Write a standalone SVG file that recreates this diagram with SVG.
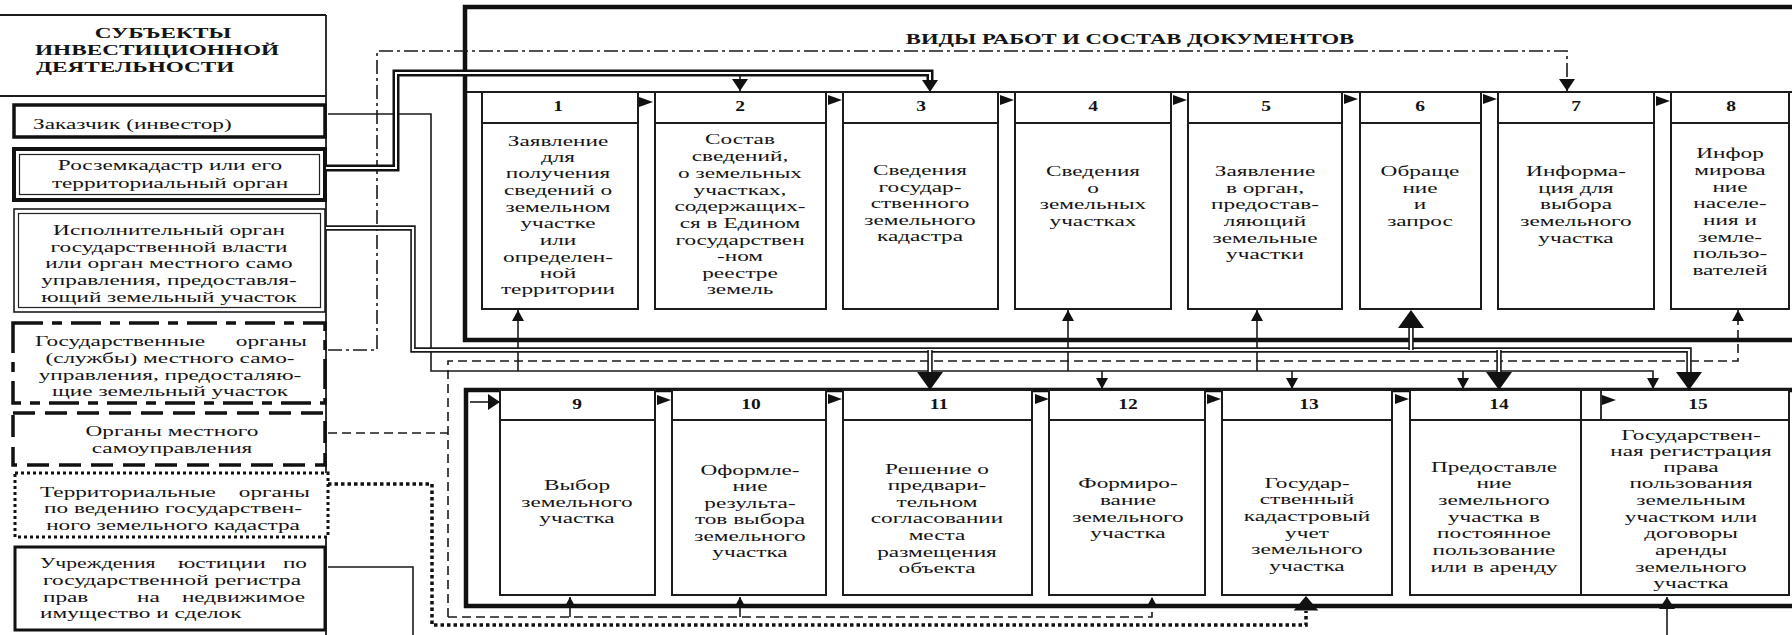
<svg xmlns="http://www.w3.org/2000/svg" width="1792" height="635" viewBox="0 0 1792 635">
<style>
  .ln{fill:none;stroke:#1c1c1c;stroke-width:1.8}
  .bx{fill:#fff;stroke:#1c1c1c;stroke-width:2}
  .frame{fill:none;stroke:#111;stroke-width:4.5}
  .tx{font-family:"Liberation Serif","Times New Roman",serif;font-size:15.5px;fill:#141414;text-anchor:middle}
  .st{text-anchor:start}
  .en{text-anchor:end}
  .bd{font-weight:bold}
  .num{font-family:"Liberation Serif","Times New Roman",serif;font-size:15px;font-weight:bold;fill:#141414;text-anchor:middle}
  .thin{fill:none;stroke:#1a1a1a;stroke-width:1.6}
  .dashdot{fill:none;stroke:#1a1a1a;stroke-width:1.6;stroke-dasharray:14 4 3 4}
  .dash{fill:none;stroke:#1a1a1a;stroke-width:1.6;stroke-dasharray:9 5}
  .dot{fill:none;stroke:#111;stroke-width:3.5;stroke-dasharray:3.5 3}
  .dblA{fill:none;stroke:#111;stroke-width:7}
  .dblAi{fill:none;stroke:#fff;stroke-width:2}
  .dblB{fill:none;stroke:#1a1a1a;stroke-width:5.5}
  .dblBi{fill:none;stroke:#fff;stroke-width:2.2}
</style>
<defs>
  <marker id="sm" viewBox="0 0 11 12" refX="11" refY="6" markerWidth="11" markerHeight="12" orient="auto" markerUnits="userSpaceOnUse">
    <path d="M0,0 L11,6 L0,12 z" fill="#111"/>
  </marker>
  <marker id="md" viewBox="0 0 12 16" refX="12" refY="8" markerWidth="12" markerHeight="16" orient="auto" markerUnits="userSpaceOnUse">
    <path d="M0,0 L12,8 L0,16 z" fill="#111"/>
  </marker>
  <path id="flag" d="M0,-5 L14,0 L0,5 z" fill="#111"/>
  <!-- large arrowhead, tip at origin pointing down -->
  <path id="bigDown" d="M-13,-18 L13,-18 L0,0 z" fill="#111"/>
  <path id="midDown" d="M-8,-12 L8,-12 L0,0 z" fill="#111"/>
</defs>

<rect width="1792" height="635" fill="#fff"/>

<!-- ===== left column: participants ===== -->
<g id="subjects-head">
  <path class="ln" d="M0,15 H326 M0,96 H326 M326,15 V635"/>
  <text class="tx bd" transform="translate(163 0) scale(1.5 1)" y="38">СУБЪЕКТЫ</text>
  <text class="tx bd st" transform="translate(35 0) scale(1.5 1)" y="55">ИНВЕСТИЦИОННОЙ</text>
  <text class="tx bd st" transform="translate(36 0) scale(1.5 1)" y="72">ДЕЯТЕЛЬНОСТИ</text>
</g>

<g id="s-customer">
  <rect x="14" y="105" width="311" height="32" fill="#fff" stroke="#111" stroke-width="3.5"/>
  <text class="tx st" transform="translate(33 0) scale(1.5 1)" y="129">Заказчик (инвестор)</text>
</g>

<g id="s-roszem">
  <rect x="14" y="149" width="311" height="51" fill="#fff" stroke="#111" stroke-width="4"/>
  <rect x="19.5" y="154.5" width="300" height="40" fill="none" stroke="#222" stroke-width="1.2"/>
  <text class="tx" transform="translate(170 0) scale(1.5 1)"><tspan x="0" y="170">Росземкадастр или его</tspan><tspan x="0" y="188">территориальный орган</tspan></text>
</g>

<g id="s-executive">
  <rect x="14" y="209" width="311" height="103" fill="#fff" stroke="#1c1c1c" stroke-width="1.6"/>
  <rect x="18.5" y="213.5" width="302" height="94" fill="none" stroke="#222" stroke-width="1.2"/>
  <text class="tx" transform="translate(169 0) scale(1.5 1)"><tspan x="0" y="235">Исполнительный орган</tspan><tspan x="0" y="252">государственной власти</tspan><tspan x="0" y="268">или орган местного само</tspan><tspan x="0" y="285">управления, предоставля-</tspan><tspan x="0" y="302">ющий земельный участок</tspan></text>
</g>

<g id="s-services">
  <rect x="13" y="323" width="312" height="80" fill="#fff" stroke="#111" stroke-width="3.5" stroke-dasharray="30 9 10 9"/>
  <text class="tx st" transform="translate(35 0) scale(1.5 1)" y="346">Государственные</text>
  <text class="tx en" transform="translate(307 0) scale(1.5 1)" y="346">органы</text>
  <text class="tx" transform="translate(170 0) scale(1.5 1)"><tspan x="0" y="363">(службы) местного само-</tspan><tspan x="0" y="380">управления, предосталяю-</tspan><tspan x="0" y="396">щие земельный участок</tspan></text>
</g>

<g id="s-local">
  <rect x="13" y="413" width="312" height="52" fill="#fff" stroke="#111" stroke-width="3.5" stroke-dasharray="22 10"/>
  <text class="tx" transform="translate(172 0) scale(1.5 1)"><tspan x="0" y="436">Органы местного</tspan><tspan x="0" y="453">самоуправления</tspan></text>
</g>

<g id="s-cadastre">
  <rect x="15" y="473" width="313" height="64" fill="#fff" stroke="#111" stroke-width="3" stroke-dasharray="3 3"/>
  <text class="tx st" transform="translate(40 0) scale(1.5 1)" y="497">Территориальные</text>
  <text class="tx en" transform="translate(310 0) scale(1.5 1)" y="497">органы</text>
  <text class="tx" transform="translate(173 0) scale(1.5 1)"><tspan x="0" y="513">по ведению государствен-</tspan><tspan x="0" y="530">ного земельного кадастра</tspan></text>
</g>

<g id="s-justice">
  <rect x="15" y="547" width="310" height="83" fill="#fff" stroke="#111" stroke-width="3"/>
  <text class="tx st" transform="translate(40 0) scale(1.4 1)" y="568">Учреждения</text>
  <text class="tx st" transform="translate(178 0) scale(1.5 1)" y="568">юстиции</text>
  <text class="tx en" transform="translate(307 0) scale(1.5 1)" y="568">по</text>
  <text class="tx" transform="translate(172 0) scale(1.5 1)" y="585">государственной регистра</text>
  <text class="tx st" transform="translate(43 0) scale(1.5 1)" y="602">прав</text>
  <text class="tx st" transform="translate(137 0) scale(1.5 1)" y="602">на</text>
  <text class="tx en" transform="translate(305 0) scale(1.5 1)" y="602">недвижимое</text>
  <text class="tx st" transform="translate(40 0) scale(1.5 1)" y="618">имущество и сделок</text>
</g>

<!-- ===== right part: work stages ===== -->
<g id="frames">
  <path class="frame" d="M1800,7 H465 V340 H1800"/>
  <path class="frame" d="M1800,390 H466 V606 H1800"/>
  <path class="ln" d="M467,92 H1792"/>
  <text class="tx bd" transform="translate(1130 0) scale(1.46 1)" y="44">ВИДЫ РАБОТ И СОСТАВ ДОКУМЕНТОВ</text>
</g>

<!-- upper row -->
<g id="w1">
  <rect class="bx" x="482" y="92" width="156" height="217"/><path class="ln" d="M482,123 H638"/>
  <text class="num" transform="translate(558 0) scale(1.3 1)" y="111">1</text>
  <text class="tx" transform="translate(558 0) scale(1.5 1)"><tspan x="0" y="146">Заявление</tspan><tspan x="0" y="162">для</tspan><tspan x="0" y="178">получения</tspan><tspan x="0" y="195">сведений о</tspan><tspan x="0" y="212">земельном</tspan><tspan x="0" y="228">участке</tspan><tspan x="0" y="245">или</tspan><tspan x="0" y="262">определен-</tspan><tspan x="0" y="278">ной</tspan><tspan x="0" y="294">территории</tspan></text>
</g>
<g id="w2">
  <rect class="bx" x="655" y="92" width="171" height="217"/><path class="ln" d="M655,123 H826"/>
  <text class="num" transform="translate(740 0) scale(1.3 1)" y="111">2</text>
  <text class="tx" transform="translate(740 0) scale(1.5 1)"><tspan x="0" y="144">Состав</tspan><tspan x="0" y="161">сведений,</tspan><tspan x="0" y="178">о земельных</tspan><tspan x="0" y="195">участках,</tspan><tspan x="0" y="211">содержащих-</tspan><tspan x="0" y="228">ся в Едином</tspan><tspan x="0" y="245">государствен</tspan><tspan x="0" y="261">-ном</tspan><tspan x="0" y="278">реестре</tspan><tspan x="0" y="294">земель</tspan></text>
</g>
<g id="w3">
  <rect class="bx" x="843" y="92" width="155" height="217"/><path class="ln" d="M843,123 H998"/>
  <text class="num" transform="translate(921 0) scale(1.3 1)" y="111">3</text>
  <text class="tx" transform="translate(920 0) scale(1.5 1)"><tspan x="0" y="175">Сведения</tspan><tspan x="0" y="192">государ-</tspan><tspan x="0" y="208">ственного</tspan><tspan x="0" y="225">земельного</tspan><tspan x="0" y="241">кадастра</tspan></text>
</g>
<g id="w4">
  <rect class="bx" x="1015" y="92" width="156" height="217"/><path class="ln" d="M1015,123 H1171"/>
  <text class="num" transform="translate(1093 0) scale(1.3 1)" y="111">4</text>
  <text class="tx" transform="translate(1093 0) scale(1.5 1)"><tspan x="0" y="176">Сведения</tspan><tspan x="0" y="193">о</tspan><tspan x="0" y="209">земельных</tspan><tspan x="0" y="226">участках</tspan></text>
</g>
<g id="w5">
  <rect class="bx" x="1188" y="92" width="154" height="217"/><path class="ln" d="M1188,123 H1342"/>
  <text class="num" transform="translate(1266 0) scale(1.3 1)" y="111">5</text>
  <text class="tx" transform="translate(1265 0) scale(1.5 1)"><tspan x="0" y="176">Заявление</tspan><tspan x="0" y="193">в орган,</tspan><tspan x="0" y="209">предостав-</tspan><tspan x="0" y="226">ляющий</tspan><tspan x="0" y="243">земельные</tspan><tspan x="0" y="259">участки</tspan></text>
</g>
<g id="w6">
  <rect class="bx" x="1360" y="92" width="121" height="217"/><path class="ln" d="M1360,123 H1481"/>
  <text class="num" transform="translate(1420 0) scale(1.3 1)" y="111">6</text>
  <text class="tx" transform="translate(1420 0) scale(1.5 1)"><tspan x="0" y="176">Обраще</tspan><tspan x="0" y="193">ние</tspan><tspan x="0" y="209">и</tspan><tspan x="0" y="226">запрос</tspan></text>
</g>
<g id="w7">
  <rect class="bx" x="1498" y="92" width="156" height="217"/><path class="ln" d="M1498,123 H1654"/>
  <text class="num" transform="translate(1576 0) scale(1.3 1)" y="111">7</text>
  <text class="tx" transform="translate(1576 0) scale(1.5 1)"><tspan x="0" y="176">Информа-</tspan><tspan x="0" y="193">ция  для</tspan><tspan x="0" y="209">выбора</tspan><tspan x="0" y="226">земельного</tspan><tspan x="0" y="243">участка</tspan></text>
</g>
<g id="w8">
  <rect class="bx" x="1671" y="92" width="118" height="217"/><path class="ln" d="M1671,123 H1789"/>
  <text class="num" transform="translate(1731 0) scale(1.3 1)" y="111">8</text>
  <text class="tx" transform="translate(1730 0) scale(1.5 1)"><tspan x="0" y="158">Инфор</tspan><tspan x="0" y="175">мирова</tspan><tspan x="0" y="192">ние</tspan><tspan x="0" y="208">населе-</tspan><tspan x="0" y="225">ния и</tspan><tspan x="0" y="242">земле-</tspan><tspan x="0" y="258">пользо-</tspan><tspan x="0" y="275">вателей</tspan></text>
</g>

<!-- lower row -->
<g id="w9">
  <rect class="bx" x="500" y="390" width="155" height="205"/><path class="ln" d="M500,420 H655"/>
  <text class="num" transform="translate(577 0) scale(1.3 1)" y="409">9</text>
  <text class="tx" transform="translate(577 0) scale(1.5 1)"><tspan x="0" y="490">Выбор</tspan><tspan x="0" y="507">земельного</tspan><tspan x="0" y="523">участка</tspan></text>
</g>
<g id="w10">
  <rect class="bx" x="672" y="390" width="154" height="205"/><path class="ln" d="M672,420 H826"/>
  <text class="num" transform="translate(751 0) scale(1.3 1)" y="409">10</text>
  <text class="tx" transform="translate(750 0) scale(1.5 1)"><tspan x="0" y="475">Оформле-</tspan><tspan x="0" y="491">ние</tspan><tspan x="0" y="508">результа-</tspan><tspan x="0" y="524">тов выбора</tspan><tspan x="0" y="541">земельного</tspan><tspan x="0" y="557">участка</tspan></text>
</g>
<g id="w11">
  <rect class="bx" x="843" y="390" width="189" height="205"/><path class="ln" d="M843,420 H1032"/>
  <text class="num" transform="translate(939 0) scale(1.3 1)" y="409">11</text>
  <text class="tx" transform="translate(937 0) scale(1.5 1)"><tspan x="0" y="474">Решение о</tspan><tspan x="0" y="490">предвари-</tspan><tspan x="0" y="507">тельном</tspan><tspan x="0" y="523">согласовании</tspan><tspan x="0" y="540">места</tspan><tspan x="0" y="557">размещения</tspan><tspan x="0" y="573">объекта</tspan></text>
</g>
<g id="w12">
  <rect class="bx" x="1049" y="390" width="156" height="205"/><path class="ln" d="M1049,420 H1205"/>
  <text class="num" transform="translate(1128 0) scale(1.3 1)" y="409">12</text>
  <text class="tx" transform="translate(1128 0) scale(1.5 1)"><tspan x="0" y="488">Формиро-</tspan><tspan x="0" y="505">вание</tspan><tspan x="0" y="522">земельного</tspan><tspan x="0" y="538">участка</tspan></text>
</g>
<g id="w13">
  <rect class="bx" x="1222" y="390" width="170" height="205"/><path class="ln" d="M1222,420 H1392"/>
  <text class="num" transform="translate(1309 0) scale(1.3 1)" y="409">13</text>
  <text class="tx" transform="translate(1307 0) scale(1.5 1)"><tspan x="0" y="488">Государ-</tspan><tspan x="0" y="504">ственный</tspan><tspan x="0" y="521">кадастровый</tspan><tspan x="0" y="538">учет</tspan><tspan x="0" y="554">земельного</tspan><tspan x="0" y="571">участка</tspan></text>
</g>
<g id="w14">
  <rect class="bx" x="1410" y="390" width="171" height="205"/><path class="ln" d="M1410,420 H1581"/>
  <text class="num" transform="translate(1499 0) scale(1.3 1)" y="409">14</text>
  <text class="tx" transform="translate(1494 0) scale(1.5 1)"><tspan x="0" y="472">Предоставле</tspan><tspan x="0" y="488">ние</tspan><tspan x="0" y="505">земельного</tspan><tspan x="0" y="522">участка в</tspan><tspan x="0" y="538">постоянное</tspan><tspan x="0" y="555">пользование</tspan><tspan x="0" y="572">или в аренду</tspan></text>
</g>
<g id="w15">
  <rect class="bx" x="1581" y="390" width="208" height="205"/><path class="ln" d="M1601,420 H1789 M1601,390 V420 M1581,420 H1601"/>
  <text class="num" transform="translate(1698 0) scale(1.3 1)" y="409">15</text>
  <text class="tx" transform="translate(1691 0) scale(1.5 1)"><tspan x="0" y="440">Государствен-</tspan><tspan x="0" y="456">ная регистрация</tspan><tspan x="0" y="472">права</tspan><tspan x="0" y="488">пользования</tspan><tspan x="0" y="505">земельным</tspan><tspan x="0" y="522">участком или</tspan><tspan x="0" y="538">договоры</tspan><tspan x="0" y="555">аренды</tspan><tspan x="0" y="572">земельного</tspan><tspan x="0" y="588">участка</tspan></text>
</g>

<!-- ===== connectors ===== -->
<g id="connectors">
  <!-- sequence flags between neighbouring stages -->
  <use href="#flag" x="639" y="102"/>
  <use href="#flag" x="828" y="100"/>
  <use href="#flag" x="1000" y="100"/>
  <use href="#flag" x="1173" y="100"/>
  <use href="#flag" x="1344" y="99"/>
  <use href="#flag" x="1483" y="99"/>
  <use href="#flag" x="1656" y="101"/>
  <path class="thin" d="M470,402 H500" marker-end="url(#md)"/>
  <use href="#flag" x="657" y="400"/>
  <use href="#flag" x="828" y="399"/>
  <use href="#flag" x="1035" y="399"/>
  <use href="#flag" x="1207" y="399"/>
  <use href="#flag" x="1395" y="399"/>
  <use href="#flag" x="1602" y="400"/>

  <!-- state / municipal services: dash-dot -->
  <path class="dashdot" d="M328,350 H377 V51 H1567 V91" marker-end="url(#md)"/>

  <!-- customer: thin line -->
  <path class="thin" d="M328,114 H431 V371 H1653 V389" marker-end="url(#sm)"/>
  <path class="thin" d="M518,371 V310" marker-end="url(#sm)"/>
  <path class="thin" d="M1068,371 V310" marker-end="url(#sm)"/>
  <path class="thin" d="M1257,371 V310" marker-end="url(#sm)"/>
  <path class="thin" d="M1102,371 V389" marker-end="url(#sm)"/>
  <path class="thin" d="M1292,371 V389" marker-end="url(#sm)"/>
  <path class="thin" d="M1463,371 V389" marker-end="url(#sm)"/>

  <!-- local government: dashed -->
  <path class="dash" d="M328,433 H448"/>
  <path class="dash" d="M448,617 V361 H1738 V310" marker-end="url(#sm)"/>
  <path class="dash" d="M448,617 H1152 V597" marker-end="url(#sm)"/>
  <path class="thin" d="M570,617 V597" marker-end="url(#sm)"/>
  <path class="thin" d="M740,617 V597" marker-end="url(#sm)"/>

  <!-- cadastre bodies: heavy dotted -->
  <path class="dot" d="M328,484 H432 V625 H1306 V611"/>
  <use href="#bigDown" transform="translate(1306 596) rotate(180) scale(0.95 0.8)"/>

  <!-- justice institutions: thin solid -->
  <path class="thin" d="M328,567 H413 V645 H1667 V597" marker-end="url(#md)"/>

  <!-- Roszemkadastr: heavy double line -->
  <path class="thin" d="M740,75 V91" marker-end="url(#md)"/>
  <path class="dblA" d="M326,168 H396 V73 H930 V80"/>
  <path class="dblAi" d="M326,168 H396 V73 H930 V80"/>
  <use href="#midDown" transform="translate(930 92)"/>

  <!-- executive body: double line -->
  <path class="dblB" d="M326,228 H413 V350 H1689 V372"/>
  <path class="dblBi" d="M326,228 H413 V350 H1689 V372"/>
  <path class="dblB" d="M930,350 V372 M1499,350 V372 M1411,350 V328"/>
  <path class="dblBi" d="M930,350 V372 M1499,350 V372 M1411,350 V328"/>
  <use href="#bigDown" transform="translate(930 390)"/>
  <use href="#bigDown" transform="translate(1499 390)"/>
  <use href="#bigDown" transform="translate(1689 390)"/>
  <use href="#bigDown" transform="translate(1411 310) rotate(180)"/>
</g>
</svg>
